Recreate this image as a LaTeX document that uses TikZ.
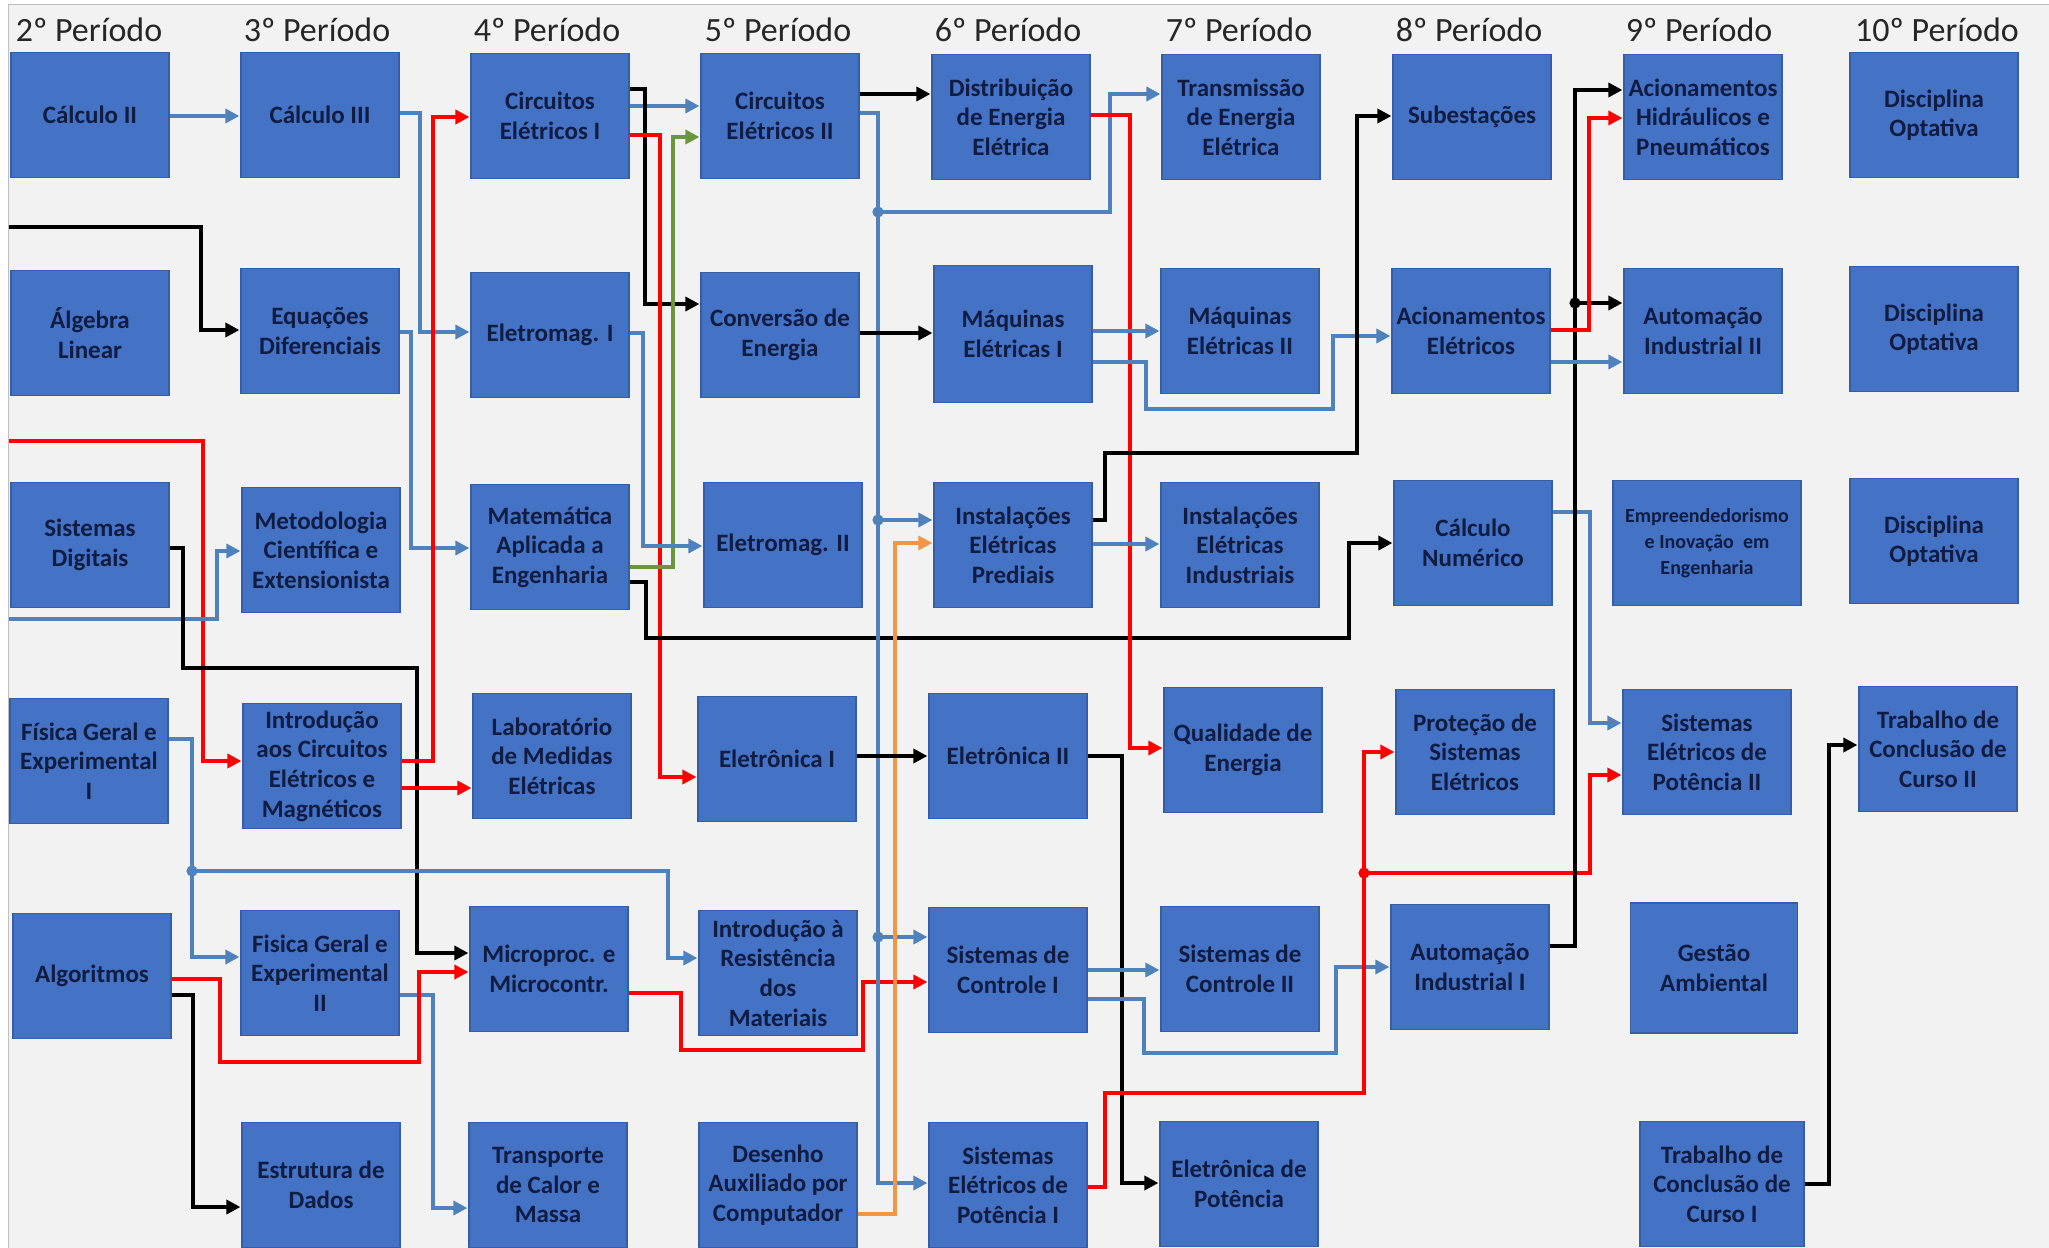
\documentclass[tikz,border=0pt]{standalone}
\usepackage{fontspec}
\setmainfont{Carlito}
\usepackage{xcolor}
\usetikzlibrary{arrows.meta}
\definecolor{boxblue}{RGB}{68,114,196}
\definecolor{boxedge}{RGB}{52,94,170}
\definecolor{boxtext}{RGB}{16,28,66}
\definecolor{lnblue}{RGB}{79,129,189}
\definecolor{lnred}{RGB}{255,0,0}
\definecolor{lngreen}{RGB}{106,150,60}
\definecolor{lnorange}{RGB}{240,150,70}
\definecolor{slide}{RGB}{242,242,242}
\tikzset{
  disc/.style={rectangle, draw=boxedge, line width=0.6pt, fill=boxblue, text=boxtext,
    align=center, font=\bfseries\fontsize{12.5}{14.8}\selectfont,
    minimum width=79pt, minimum height=62.5pt, inner sep=1pt},
  per/.style={font=\fontsize{17}{20}\selectfont, text=black!85, anchor=base},
  link/.style={line width=1.7pt, -{Triangle[length=7pt,width=7pt]}, shorten >=0.5pt},
  lblue/.style={link, draw=lnblue},
  lred/.style={link, draw=lnred},
  lblack/.style={link, draw=black},
  lgreen/.style={link, draw=lngreen},
  lorange/.style={link, draw=lnorange},
}

\begin{document}
\begin{tikzpicture}[x=0.5pt, y=-0.5pt]
\useasboundingbox (0,0) rectangle (2049,1247);
\fill[white] (0,0) rectangle (2049,1247);
\filldraw[fill=slide, draw=black!25, line width=0.5pt] (8,5) rectangle (2049,1250);
% ---- period titles ----
\node[per] (p2)  at (89,42)   {2º Período};
\node[per] (p3)  at (317,42)  {3º Período};
\node[per] (p4)  at (547,42)  {4º Período};
\node[per] (p5)  at (778,42)  {5º Período};
\node[per] (p6)  at (1008,42) {6º Período};
\node[per] (p7)  at (1239,42) {7º Período};
\node[per] (p8)  at (1469,42) {8º Período};
\node[per] (p9)  at (1699,42) {9º Período};
\node[per] (p10) at (1937,42) {10º Período};
% ---- row 1 ----
\node[disc] (calc2)  at (90,115)   {Cálculo II};
\node[disc] (calc3)  at (320,115)  {Cálculo III};
\node[disc] (circ1)  at (550,116)  {Circuitos\\Elétricos I};
\node[disc] (circ2)  at (780,116)  {Circuitos\\Elétricos II};
\node[disc] (dist)   at (1011,117) {Distribuição\\de Energia\\Elétrica};
\node[disc] (trans)  at (1241,117) {Transmissão\\de Energia\\Elétrica};
\node[disc] (subest) at (1472,117) {Subestações};
\node[disc] (acihid) at (1703,117) {Acionamentos\\Hidráulicos e\\Pneumáticos};
\node[disc, minimum width=84pt] (opt1) at (1934,115) {Disciplina\\Optativa};
% ---- row 2 ----
\node[disc] (alg)   at (90,333)   {Álgebra\\Linear};
\node[disc] (eqdif) at (320,331)  {Equações\\Diferenciais};
\node[disc] (emag1) at (550,335)  {Eletromag. I};
\node[disc] (conv)  at (780,335)  {Conversão de\\Energia};
\node[disc, minimum height=68.5pt] (maq1) at (1013,334) {Máquinas\\Elétricas I};
\node[disc] (maq2)  at (1240,331) {Máquinas\\Elétricas II};
\node[disc] (acel)  at (1471,331) {Acionamentos\\Elétricos};
\node[disc] (auto2) at (1703,331) {Automação\\Industrial II};
\node[disc, minimum width=84pt] (opt2) at (1934,329) {Disciplina\\Optativa};
% ---- row 3 ----
\node[disc] (sisdig)   at (90,545)   {Sistemas\\Digitais};
\node[disc] (metod)    at (321,550)  {Metodologia\\Científica e\\Extensionista};
\node[disc] (matap)    at (550,547)  {Matemática\\Aplicada a\\Engenharia};
\node[disc] (emag2)    at (783,545)  {Eletromag. II};
\node[disc] (instpred) at (1013,545) {Instalações\\Elétricas\\Prediais};
\node[disc] (instind)  at (1240,545) {Instalações\\Elétricas\\Industriais};
\node[disc] (calcnum)  at (1473,543) {Cálculo\\Numérico};
\node[disc, minimum width=94pt, font=\bfseries\fontsize{10}{13}\selectfont] (empreend)
  at (1707,543) {Empreendedorismo\\e Inovação\ \ em\\Engenharia};
\node[disc, minimum width=84pt] (opt3) at (1934,541) {Disciplina\\Optativa};
% ---- row 4 ----
\node[disc] (fis1)      at (89,761)   {Física Geral e\\Experimental\\I};
\node[disc] (introcirc) at (322,766)  {Introdução\\aos Circuitos\\Elétricos e\\Magnéticos};
\node[disc] (labmed)    at (552,756)  {Laboratório\\de Medidas\\Elétricas};
\node[disc] (eletr1)    at (777,759)  {Eletrônica I};
\node[disc] (eletr2)    at (1008,756) {Eletrônica II};
\node[disc] (qual)      at (1243,750) {Qualidade de\\Energia};
\node[disc] (prot)      at (1475,752) {Proteção de\\Sistemas\\Elétricos};
\node[disc, minimum width=84pt] (sep2) at (1707,752) {Sistemas\\Elétricos de\\Potência II};
\node[disc] (tcc2)      at (1938,749) {Trabalho de\\Conclusão de\\Curso II};
% ---- row 5 ----
\node[disc] (algor)  at (92,976)   {Algoritmos};
\node[disc] (fis2)   at (320,973)  {Fisica Geral e\\Experimental\\II};
\node[disc] (micro)  at (549,969)  {Microproc. e\\Microcontr.};
\node[disc] (resist) at (778,973)  {Introdução à\\Resistência\\dos\\Materiais};
\node[disc] (ctrl1)  at (1008,970) {Sistemas de\\Controle I};
\node[disc] (ctrl2)  at (1240,969) {Sistemas de\\Controle II};
\node[disc] (auto1)  at (1470,967) {Automação\\Industrial I};
\node[disc, minimum width=83.5pt, minimum height=65pt] (gestao) at (1714,968) {Gestão\\Ambiental};
% ---- row 6 ----
\node[disc] (estrut)  at (321,1185)  {Estrutura de\\Dados};
\node[disc] (transp)  at (548,1185)  {Transporte\\de Calor e\\Massa};
\node[disc] (desenho) at (778,1185)  {Desenho\\Auxiliado por\\Computador};
\node[disc] (sep1)    at (1008,1185) {Sistemas\\Elétricos de\\Potência I};
\node[disc] (eletpot) at (1239,1184) {Eletrônica de\\Potência};
\node[disc, minimum width=82pt] (tcc1) at (1722,1184) {Trabalho de\\Conclusão de\\Curso I};
% ---- incoming lines from 1st period ----
\coordinate (inK) at (9,227);
\coordinate (inR) at (9,441);
\coordinate (inB) at (9,619);
% ---- junctions ----
\coordinate (jF)  at (192,871);
\coordinate (jV1) at (878,212);
\coordinate (jV2) at (878,520);
\coordinate (jV3) at (878,937);
\coordinate (jH)  at (1364,873);
\coordinate (jJ)  at (1575,303);
% ---- connectors, 2nd to 4th period ----
\draw[lblack] (inK) -| (201,330) -- (eqdif.west |- 0,330);
\draw[lred] (inR) -| (203,761) -- (introcirc.west |- 0,761);
\draw[lblue] (inB) -| (217,551) -- (metod.west |- 0,551);
\draw[lblue] (calc2.east |- 0,116) -- (calc3.west |- 0,116);
\draw[lblue] (calc3.east |- 0,113) -| (420,332) -- (emag1.west |- 0,332);
\draw[lblue] (eqdif.east |- 0,332) -| (411,548) -- (matap.west |- 0,548);
\draw[lblack] (sisdig.east |- 0,548) -| (183,668) -| (417,953) -- (micro.west |- 0,953);
\draw[lred] (introcirc.east |- 0,761) -| (433,117) -- (circ1.west |- 0,117);
\draw[lred] (introcirc.east |- 0,788) -- (labmed.west |- 0,788);
\draw[lblue] (fis1.east |- 0,739) -| (192,957) -- (fis2.west |- 0,957);
\draw[lblue] (jF) -| (668,958) -- (resist.west |- 0,958);
\draw[lblue] (fis2.east |- 0,995) -| (433,1208) -- (transp.west |- 0,1208);
\draw[lred] (algor.east |- 0,979) -| (220,1062) -| (419,972) -- (micro.west |- 0,972);
\draw[lblack] (algor.east |- 0,995) -| (193,1207) -- (estrut.west |- 0,1207);
% ---- connectors, 4th to 6th period ----
\draw[lblue] (circ1.east |- 0,106) -- (circ2.west |- 0,106);
\draw[lblack] (circ1.east |- 0,89) -| (645,304) -- (conv.west |- 0,304);
\draw[lred] (circ1.east |- 0,135) -| (660,777) -- (eletr1.west |- 0,777);
\draw[lgreen] (matap.east |- 0,567) -| (673,137) -- (circ2.west |- 0,137);
\draw[lblue] (emag1.east |- 0,333) -| (643,546) -- (emag2.west |- 0,546);
\draw[lblack] (matap.east |- 0,582) -| (646,638) -| (1349,543) -- (calcnum.west |- 0,543);
\draw[lred] (micro.east |- 0,993) -| (681,1050) -| (863,982) -- (ctrl1.west |- 0,982);
\draw[lblack] (circ2.east |- 0,94) -- (dist.west |- 0,94);
\draw[lblue] (circ2.east |- 0,113) -| (jV1) -| (1110,94) -- (trans.west |- 0,94);
\draw[lblue] (jV1) -- (jV2) -- (instpred.west |- 0,520);
\draw[lblue] (jV2) -- (jV3) -- (ctrl1.west |- 0,937);
\draw[lblue] (jV3) |- (sep1.west |- 0,1183);
\draw[lblack] (conv.east |- 0,333) -- (maq1.west |- 0,333);
\draw[lorange] (desenho.east |- 0,1214) -| (895,543) -- (instpred.west |- 0,543);
\draw[lblack] (eletr1.east |- 0,756) -- (eletr2.west |- 0,756);
% ---- connectors, 6th to 10th period ----
\draw[lred] (dist.east |- 0,115) -| (1130,748) -- (qual.west |- 0,748);
\draw[lblue] (maq1.east |- 0,331) -- (maq2.west |- 0,331);
\draw[lblue] (maq1.east |- 0,362) -| (1146,409) -| (1333,336) -- (acel.west |- 0,336);
\draw[lblue] (instpred.east |- 0,544) -- (instind.west |- 0,544);
\draw[lblack] (instpred.east |- 0,520) -| (1105,453) -| (1357,116) -- (subest.west |- 0,116);
\draw[lblack] (eletr2.east |- 0,756) -| (1122,1183) -- (eletpot.west |- 0,1183);
\draw[lblue] (ctrl1.east |- 0,970) -- (ctrl2.west |- 0,970);
\draw[lblue] (ctrl1.east |- 0,999) -| (1144,1053) -| (1336,967) -- (auto1.west |- 0,967);
\draw[lred] (sep1.east |- 0,1187) -| (1105,1093) -| (1364,752) -- (prot.west |- 0,752);
\draw[lred] (jH) -| (1590,775) -- (sep2.west |- 0,775);
\draw[lblue] (calcnum.east |- 0,512) -| (1590,723) -- (sep2.west |- 0,723);
\draw[lblack] (auto1.east |- 0,946) -| (1575,90) -- (acihid.west |- 0,90);
\draw[lblack] (jJ) -- (auto2.west |- 0,303);
\draw[lred] (acel.east |- 0,330) -| (1589,118) -- (acihid.west |- 0,118);
\draw[lblue] (acel.east |- 0,362) -- (auto2.west |- 0,362);
\draw[lblack] (tcc1.east |- 0,1184) -| (1829,745) -- (tcc2.west |- 0,745);
% ---- junction dots ----
\fill[lnblue] (jF) circle (2.8pt);
\fill[lnblue] (jV1) circle (2.8pt);
\fill[lnblue] (jV2) circle (2.8pt);
\fill[lnblue] (jV3) circle (2.8pt);
\fill[lnred] (jH) circle (2.8pt);
\fill[black] (jJ) circle (2.8pt);
\end{tikzpicture}
\end{document}
